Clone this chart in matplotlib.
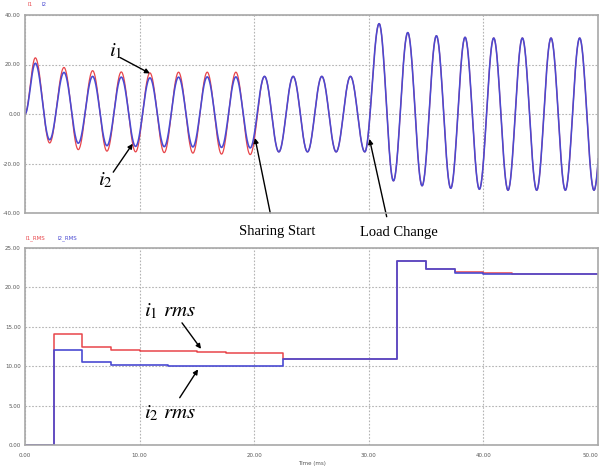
import numpy as np
import matplotlib
matplotlib.use("Agg")
import matplotlib.pyplot as plt

plt.rcParams['mathtext.fontset'] = 'stix'

# ---------------- data ----------------
# extremum times of the phase currents (ms); first entry is the start of the trace
ext_times = [0.0, 0.9, 2.15, 3.4, 4.65, 5.9, 7.15, 8.4, 9.65, 10.9, 12.15,
             13.4, 14.65, 15.9, 17.15, 18.4, 19.65, 20.9, 22.15, 23.4, 24.65,
             25.9, 27.15, 28.4, 29.65, 30.9, 32.15, 33.4, 34.65, 35.9, 37.15,
             38.4, 39.65, 40.9, 42.15, 43.4, 44.65, 45.9, 47.15, 48.4, 49.65,
             50.9]
i1_ext = [0.0, 22.7, -11.7, 18.8, -14.4, 17.5, -15.0, 17.0, -15.3, 16.6, -15.6,
          16.9, -15.8, 16.9, -16.2, 16.9, -16.4, 15.2, -15.3, 15.2, -15.3,
          15.2, -15.3, 15.2, -15.3, 36.5, -27.0, 32.9, -29.0, 31.6, -30.0,
          31.0, -30.4, 30.7, -30.8, 30.7, -30.8, 30.7, -30.8, 30.7, -30.8,
          30.7]
i2_ext = [0.0, 20.5, -10.4, 16.8, -11.8, 15.2, -12.8, 14.9, -13.1, 14.6, -13.2,
          14.9, -13.3, 15.0, -13.5, 15.0, -13.7, 15.2, -15.3, 15.2, -15.3,
          15.2, -15.3, 15.2, -15.3, 36.5, -27.0, 32.9, -29.0, 31.6, -30.0,
          31.0, -30.4, 30.7, -30.8, 30.7, -30.8, 30.7, -30.8, 30.7, -30.8,
          30.7]

rms_times = [0, 2.5, 5, 7.5, 10, 12.5, 15, 17.5, 20, 22.5, 25, 27.5, 30,
             32.5, 35, 37.5, 40, 42.5, 45, 47.5, 50]
i1_rms = [0, 14.1, 12.5, 12.0, 11.9, 11.9, 11.85, 11.7, 11.7, 10.9, 10.9,
          10.9, 10.9, 23.4, 22.3, 21.9, 21.8, 21.7, 21.7, 21.7]
i2_rms = [0, 12.0, 10.5, 10.15, 10.1, 10.05, 10.05, 10.05, 10.05, 10.9, 10.9,
          10.9, 10.9, 23.4, 22.3, 21.87, 21.7, 21.7, 21.7, 21.7]

top_yticks = [-40, -20, 0, 20, 40]
bot_yticks = [0, 5, 10, 15, 20, 25]
xticks = [0, 10, 20, 30, 40, 50]

RED = '#e8454a'
BLUE = '#4a4ad2'
GRID = '#b4b4b4'
SPINE = '#a8a8a8'
TICKC = '#555555'


def smooth_wave(times, vals, n=40):
    """Join consecutive extrema with half-cosine segments."""
    ts, vs = [], []
    for a in range(len(times) - 1):
        s = np.linspace(0, 1, n, endpoint=False)
        ts.append(times[a] + (times[a + 1] - times[a]) * s)
        vs.append(vals[a] + (vals[a + 1] - vals[a]) * (1 - np.cos(np.pi * s)) / 2)
    ts.append([times[-1]])
    vs.append([vals[-1]])
    return np.concatenate(ts), np.concatenate(vs)


fig = plt.figure(figsize=(6.04, 4.70), dpi=100)
ax1 = fig.add_axes([25 / 604, 1 - 213 / 470, 573 / 604, 198 / 470])
ax2 = fig.add_axes([25 / 604, 1 - 445 / 470, 573 / 604, 197 / 470])

for ax in (ax1, ax2):
    ax.set_facecolor('white')
    for sp in ax.spines.values():
        sp.set_color(SPINE)
        sp.set_linewidth(1.2)
        sp.set_zorder(3)
    ax.grid(True, linestyle=(0, (1.5, 1.5)), color=GRID, linewidth=0.8)
    ax.set_axisbelow(True)
    ax.tick_params(length=0, labelsize=4, colors=TICKC, pad=3)
    ax.set_xlim(0, 50)
    ax.set_xticks(xticks)

# ---- top: phase currents ----
t1, v1 = smooth_wave(ext_times, i1_ext)
t2, v2 = smooth_wave(ext_times, i2_ext)
ax1.plot(t1, v1, color=RED, lw=0.9)
ax1.plot(t2, v2, color=BLUE, lw=1.15)
ax1.set_ylim(-40, 40)
ax1.set_yticks(top_yticks)
ax1.set_yticklabels(['%.2f' % v for v in top_yticks])
ax1.set_xticklabels([])

fig.text(28 / 604, 1 - 5 / 470, 'I1', color=RED, fontsize=4, va='center')
fig.text(41 / 604, 1 - 5 / 470, 'I2', color=BLUE, fontsize=4, va='center')

arrow = dict(arrowstyle='-|>', color='black', lw=1.0, mutation_scale=7,
             shrinkA=0, shrinkB=0)
ax1.text(7.9, 25.5, r'$i_1$', fontsize=15, ha='center', va='center')
ax1.annotate('', xy=(10.9, 16.4), xytext=(8.3, 22.8), arrowprops=arrow)
ax1.text(7.0, -26.5, r'$i_2$', fontsize=15, ha='center', va='center')
ax1.annotate('', xy=(9.4, -12.0), xytext=(7.7, -23.5), arrowprops=arrow)

ax1.text(22.0, -47.5, 'Sharing Start', family='Liberation Serif', fontsize=10.5,
         ha='center', va='center', clip_on=False)
ax1.annotate('', xy=(20.07, -9.7), xytext=(21.4, -40.0), arrowprops=arrow,
             annotation_clip=False)
ax1.text(32.6, -48.0, 'Load Change', family='Liberation Serif', fontsize=10.5,
         ha='center', va='center', clip_on=False)
ax1.annotate('', xy=(30.06, -10.1), xytext=(31.56, -41.5), arrowprops=arrow,
             annotation_clip=False)

# ---- bottom: RMS currents ----
ax2.step(rms_times, i1_rms + [i1_rms[-1]], where='post', color=RED, lw=1.1,
         zorder=1.5)
ax2.step(rms_times, i2_rms + [i2_rms[-1]], where='post', color=BLUE, lw=1.2,
         zorder=1.6)
ax2.set_ylim(0, 25)
ax2.set_yticks(bot_yticks)
ax2.set_yticklabels(['%.2f' % v for v in bot_yticks])
ax2.set_xticklabels(['%.2f' % v for v in xticks])
ax2.tick_params(axis='x', pad=6)
ax2.get_xticklabels()[-1].set_horizontalalignment('right')
ax2.set_xlabel('Time (ms)', fontsize=4, color=TICKC, labelpad=2)

fig.text(26 / 604, 1 - 238 / 470, 'I1_RMS', color=RED, fontsize=4, va='center')
fig.text(57 / 604, 1 - 238 / 470, 'I2_RMS', color=BLUE, fontsize=4, va='center')

ax2.text(12.65, 17.0, r'$i_1\ rms$', fontsize=15, ha='center', va='center')
ax2.annotate('', xy=(15.36, 12.2), xytext=(13.7, 15.5), arrowprops=arrow)
ax2.text(12.65, 4.0, r'$i_2\ rms$', fontsize=15, ha='center', va='center')
ax2.annotate('', xy=(15.1, 9.6), xytext=(13.5, 6.0), arrowprops=arrow)

fig.savefig('out.png', dpi=100, facecolor='white')
